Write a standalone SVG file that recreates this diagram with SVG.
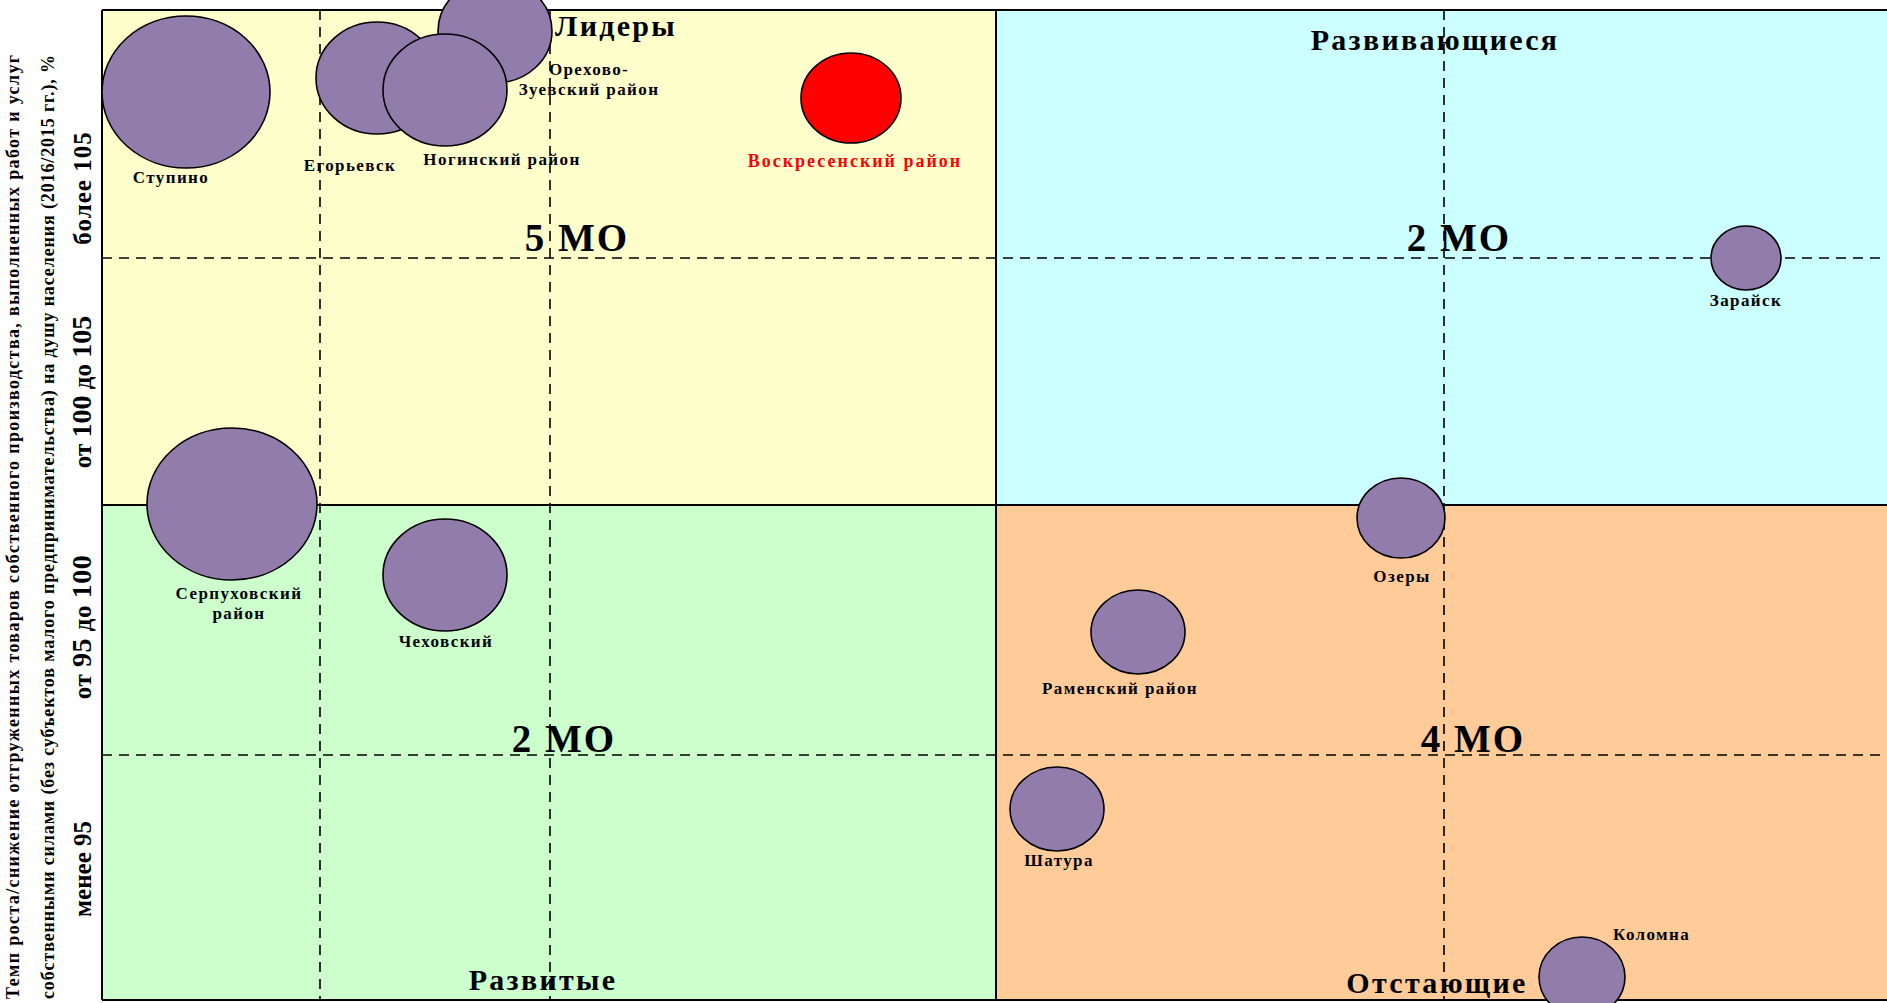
<svg xmlns="http://www.w3.org/2000/svg" width="1887" height="1003" viewBox="0 0 1887 1003">
<style>
text{font-family:"Liberation Serif","Times New Roman",serif;font-weight:bold;fill:#000}
.q{font-size:30px;letter-spacing:2.3px;text-anchor:middle}
.n{font-size:39px;letter-spacing:2px;text-anchor:middle}
.lb{font-size:17px;letter-spacing:1.4px;text-anchor:middle}
.ax{font-size:25px;text-anchor:middle}
.big{font-size:28px}
.tt{font-size:18px;text-anchor:middle}
.b{fill:#927CAC;stroke:#000;stroke-width:1.6}
.dash{stroke:#000;stroke-width:1.6;stroke-dasharray:10 7;fill:none}
.bd{stroke:#000;stroke-width:2;fill:none}
</style>
<rect x="0" y="0" width="1887" height="1003" fill="#fff"/>
<g id="quadrants">
<rect x="102" y="10" width="894" height="495" fill="#FFFFCC"/>
<rect x="996" y="10" width="891" height="495" fill="#CCFFFF"/>
<rect x="102" y="505" width="894" height="495" fill="#CCFFCC"/>
<rect x="996" y="505" width="891" height="495" fill="#FFCC99"/>
</g>
<g id="axis-title">
<text class="tt" transform="translate(19,527) rotate(-90)" textLength="944" lengthAdjust="spacing">Темп роста/снижение отгруженных товаров собственного производства, выполненных работ и услуг</text>
<text class="tt" transform="translate(54,527) rotate(-90)" textLength="944" lengthAdjust="spacing">собственными силами (без субъектов малого предпринимательства) на душу населения (2016/2015 гг.), %</text>
</g>
<g id="axis-values">
<text class="ax" transform="translate(91,188) rotate(-90)" letter-spacing="1">более 105</text>
<text class="ax" transform="translate(91,392) rotate(-90)">от <tspan class="big">100</tspan> до <tspan class="big">105</tspan></text>
<text class="ax" transform="translate(91,627) rotate(-90)" letter-spacing="0.5">от <tspan class="big">95</tspan> до <tspan class="big">100</tspan></text>
<text class="ax" transform="translate(91,869) rotate(-90)">менее 95</text>
</g>
<g id="quadrant-labels">
<text class="q" x="555" y="36" style="text-anchor:start">Лидеры</text>
<text class="q" x="1435" y="50">Развивающиеся</text>
<text class="q" x="543" y="990">Развитые</text>
<text class="q" x="1437" y="993">Отстающие</text>
<text class="n" x="577" y="251">5 МО</text>
<text class="n" x="1459" y="251">2 МО</text>
<text class="n" x="564" y="752">2 МО</text>
<text class="n" x="1473" y="752">4 МО</text>
</g>
<g id="labels">
<text class="lb" x="171" y="183">Ступино</text>
<text class="lb" x="350" y="171">Егорьевск</text>
<text class="lb" x="502" y="165">Ногинский район</text>
<text class="lb" x="589" y="75">Орехово-</text>
<text class="lb" x="589" y="95">Зуевский район</text>
<text class="lb" x="855" y="167" style="font-size:18px;letter-spacing:2px;fill:#FF0000">Воскресенский район</text>
<text class="lb" x="1746" y="306">Зарайск</text>
<text class="lb" x="239" y="599">Серпуховский</text>
<text class="lb" x="239" y="619">район</text>
<text class="lb" x="446" y="647">Чеховский</text>
<text class="lb" x="1402" y="582">Озеры</text>
<text class="lb" x="1120" y="694">Раменский район</text>
<text class="lb" x="1059" y="866">Шатура</text>
<text class="lb" x="1613" y="940" style="text-anchor:start">Коломна</text>
</g>
<g id="connectors">
<line class="dash" x1="320" y1="10" x2="320" y2="1000"/>
<line class="dash" x1="550" y1="10" x2="550" y2="1000"/>
<line class="dash" x1="1444" y1="10" x2="1444" y2="1000"/>
<line class="dash" x1="102" y1="258" x2="1887" y2="258"/>
<line class="dash" x1="102" y1="755" x2="1887" y2="755"/>
<line class="bd" x1="102" y1="10" x2="1887" y2="10"/>
<line class="bd" x1="102" y1="10" x2="102" y2="1000"/>
<line class="bd" x1="102" y1="1000" x2="1887" y2="1000"/>
<line class="bd" x1="996" y1="10" x2="996" y2="1000"/>
<line class="bd" x1="102" y1="505" x2="1887" y2="505"/>
</g>
<g id="node-stupino"><ellipse class="b" cx="186" cy="92" rx="84" ry="76"/></g>
<g id="node-egorievsk"><ellipse class="b" cx="377" cy="78" rx="61" ry="56"/></g>
<g id="node-orekhovo"><ellipse class="b" cx="495" cy="31" rx="57" ry="52"/></g>
<g id="node-noginsk"><ellipse class="b" cx="445" cy="90" rx="62" ry="56"/></g>
<g id="node-voskresensk"><ellipse cx="851" cy="98" rx="50" ry="45" fill="#FF0000" stroke="#000" stroke-width="1.6"/></g>
<g id="node-zaraisk"><ellipse class="b" cx="1746" cy="258" rx="35" ry="32"/></g>
<g id="node-serpukhov"><ellipse class="b" cx="232" cy="504" rx="85" ry="76"/></g>
<g id="node-chekhov"><ellipse class="b" cx="445" cy="575" rx="62" ry="56"/></g>
<g id="node-ozery"><ellipse class="b" cx="1401" cy="518" rx="44" ry="40"/></g>
<g id="node-ramenskoe"><ellipse class="b" cx="1138" cy="632" rx="47" ry="42"/></g>
<g id="node-shatura"><ellipse class="b" cx="1057" cy="809" rx="47" ry="42"/></g>
<g id="node-kolomna"><ellipse class="b" cx="1582" cy="977" rx="43" ry="40"/></g>
</svg>
